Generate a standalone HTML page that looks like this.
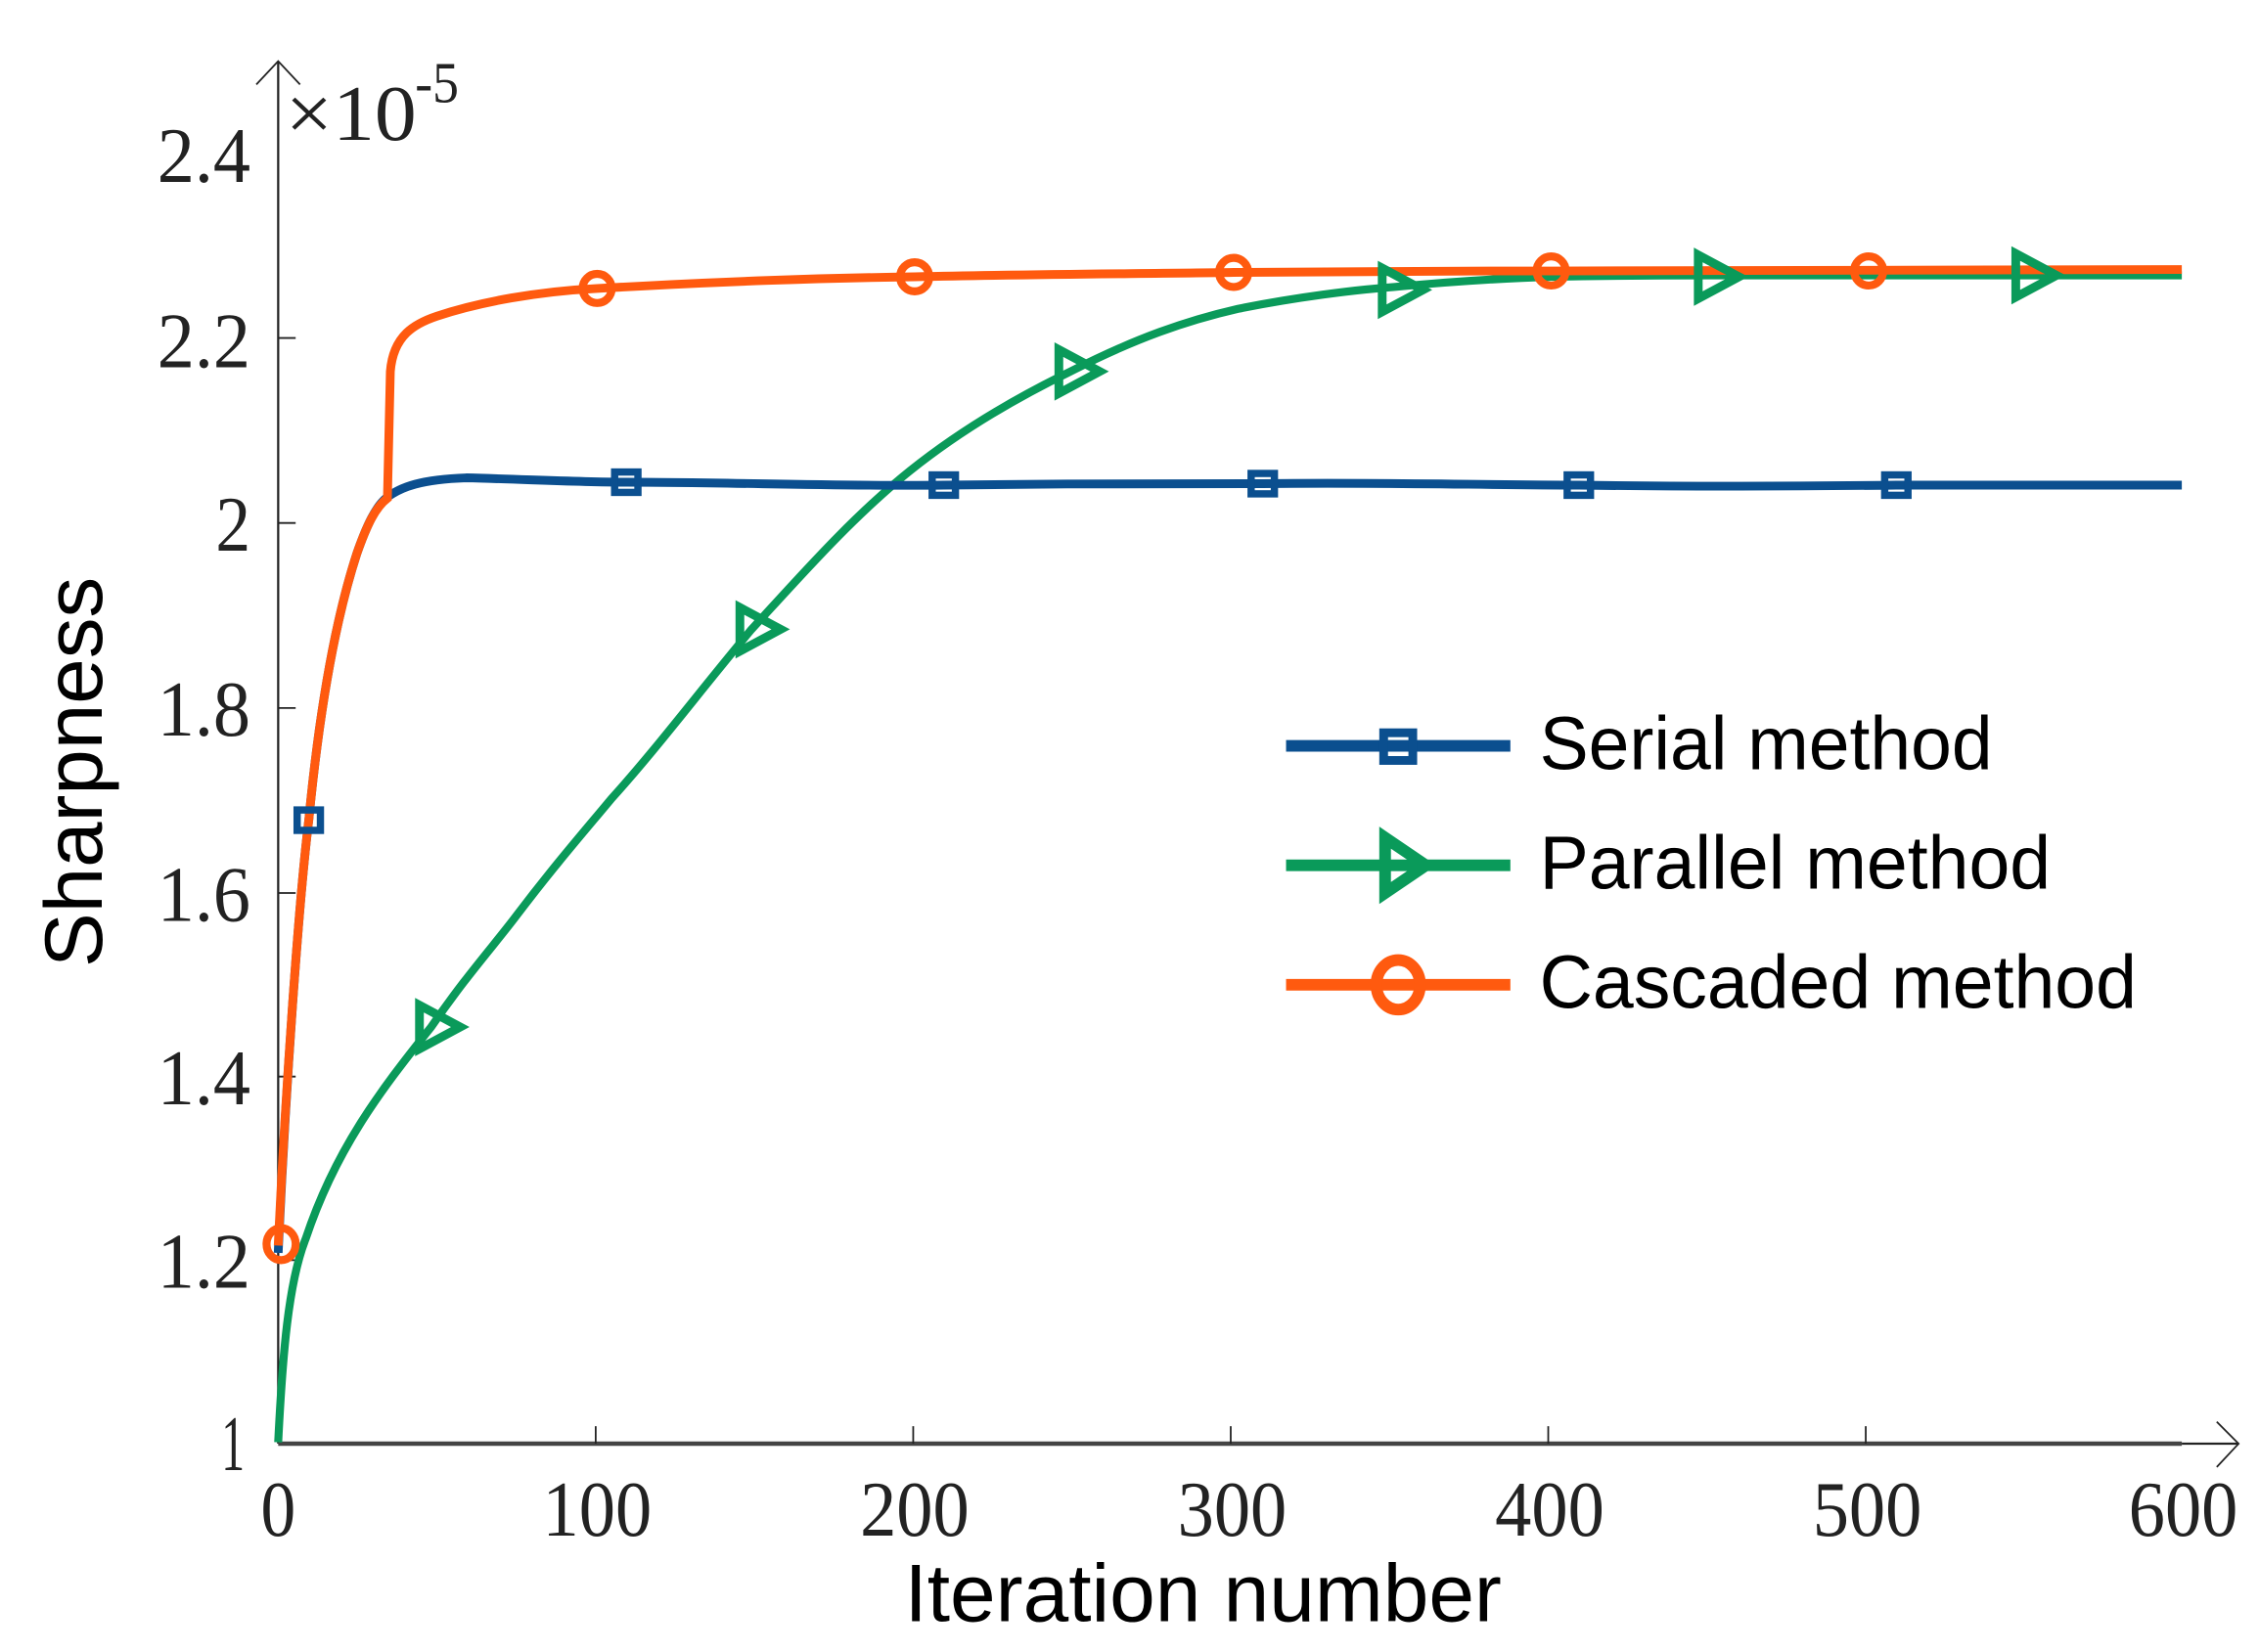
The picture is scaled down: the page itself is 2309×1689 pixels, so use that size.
<!DOCTYPE html>
<html><head><meta charset="utf-8"><style>html,body{margin:0;padding:0;background:#fff}svg{display:block}</style></head>
<body>
<svg width="2309" height="1689" viewBox="0 0 1551 1134" preserveAspectRatio="none" xmlns="http://www.w3.org/2000/svg">
<rect width="1551" height="1134" fill="#fff"/>
<g stroke="#222" fill="none">
<line x1="191" y1="42" x2="191" y2="991" stroke-width="1.5"/>
<polyline points="176,58 191,42 206,58" stroke-width="1.2"/>
<line x1="191" y1="991" x2="1498" y2="991" stroke-width="3" stroke="#444"/>
<line x1="1498" y1="991" x2="1537" y2="991" stroke-width="1.5"/>
<polyline points="1522,976 1537,991 1522,1007" stroke-width="1.2"/>
<g stroke-width="1.2">
<line x1="191" y1="232" x2="203" y2="232"/><line x1="191" y1="359" x2="203" y2="359"/>
<line x1="191" y1="486" x2="203" y2="486"/><line x1="191" y1="613" x2="203" y2="613"/>
<line x1="191" y1="739" x2="203" y2="739"/><line x1="191" y1="865" x2="203" y2="865"/>
<line x1="409" y1="991" x2="409" y2="979"/><line x1="627" y1="991" x2="627" y2="979"/>
<line x1="845" y1="991" x2="845" y2="979"/><line x1="1063" y1="991" x2="1063" y2="979"/>
<line x1="1281" y1="991" x2="1281" y2="979"/>
</g>
</g>
<g font-family="Liberation Serif, serif" font-size="54" fill="#222" text-anchor="end">
<text x="172" y="125" textLength="64" lengthAdjust="spacingAndGlyphs">2.4</text>
<text x="172" y="252" textLength="64" lengthAdjust="spacingAndGlyphs">2.2</text>
<text x="172" y="378" textLength="24" lengthAdjust="spacingAndGlyphs">2</text>
<text x="172" y="505" textLength="64" lengthAdjust="spacingAndGlyphs">1.8</text>
<text x="172" y="632" textLength="64" lengthAdjust="spacingAndGlyphs">1.6</text>
<text x="172" y="758" textLength="64" lengthAdjust="spacingAndGlyphs">1.4</text>
<text x="172" y="884" textLength="64" lengthAdjust="spacingAndGlyphs">1.2</text>
<text x="168" y="1009" textLength="16" lengthAdjust="spacingAndGlyphs">1</text>
</g>
<g font-family="Liberation Serif, serif" font-size="54" fill="#222" text-anchor="middle">
<text x="191" y="1054" textLength="24" lengthAdjust="spacingAndGlyphs">0</text>
<text x="410" y="1054" textLength="75" lengthAdjust="spacingAndGlyphs">100</text>
<text x="628" y="1054" textLength="75" lengthAdjust="spacingAndGlyphs">200</text>
<text x="846" y="1054" textLength="75" lengthAdjust="spacingAndGlyphs">300</text>
<text x="1064" y="1054" textLength="75" lengthAdjust="spacingAndGlyphs">400</text>
<text x="1282" y="1054" textLength="75" lengthAdjust="spacingAndGlyphs">500</text>
<text x="1499" y="1054" textLength="75" lengthAdjust="spacingAndGlyphs">600</text>
</g>
<text x="196" y="96" font-family="Liberation Serif, serif" font-size="54" fill="#222" textLength="90" lengthAdjust="spacingAndGlyphs">×10</text>
<text x="285" y="70" font-family="Liberation Serif, serif" font-size="40" fill="#222" textLength="30" lengthAdjust="spacingAndGlyphs">-5</text>
<text x="826" y="1113" font-family="Liberation Sans, sans-serif" font-size="56" text-anchor="middle" textLength="410" lengthAdjust="spacingAndGlyphs">Iteration number</text>
<text transform="translate(70,530) rotate(-90)" font-family="Liberation Sans, sans-serif" font-size="56" text-anchor="middle" textLength="268" lengthAdjust="spacingAndGlyphs">Sharpness</text>
<path d="M191,990 C194,930 198,880 210,850 C230,790 260,750 296,705 C320,670 340,648 355,628 C380,595 400,572 420,548 C450,515 480,475 516,432 C550,395 585,355 625,323 C660,295 700,272 735,255 C780,232 815,220 850,212 C890,204 930,199 957,197 C1000,193 1030,191 1065,190 C1120,189 1150,189 1174,189 L1498,189" fill="none" stroke="#0a9a5a" stroke-width="5.5"/>
<path d="M191,860 C196,750 205,620 212,563 C220,480 232,420 245,380 C252,360 258,348 265,342 C275,334 290,329 320,328 C360,329 400,331 430,331 C500,331 580,334 648,333 C720,332 800,332 867,332 C950,331 1020,333 1084,333 C1150,334 1220,334 1302,333 L1498,333" fill="none" stroke="#0b4f8f" stroke-width="6"/>
<path d="M191,855 C196,750 205,620 212,563 C220,480 232,420 245,380 C252,360 258,348 266,342 L268,255 C270,230 285,222 300,217 C330,207 370,200 410,198 C500,193 560,191 628,190 C720,188 780,188 847,187 C950,186 1000,186 1065,186 L1498,185" fill="none" stroke="#ff5a0f" stroke-width="6"/>
<g fill="none" stroke="#0b4f8f" stroke-width="5">
<rect x="204" y="556" width="16" height="14"/><rect x="422" y="324" width="16" height="14"/>
<rect x="640" y="326" width="16" height="14"/><rect x="859" y="325" width="16" height="14"/>
<rect x="1076" y="326" width="16" height="14"/><rect x="1294" y="326" width="16" height="14"/>
</g>
<g fill="none" stroke="#0a9a5a" stroke-width="6">
<polygon points="288,690 316,705 288,720"/><polygon points="508,417 536,432 508,447"/>
<polygon points="727,240 755,255 727,270"/><polygon points="949,184 977,199 949,214"/>
<polygon points="1166,175 1194,190 1166,205"/><polygon points="1384,174 1412,189 1384,204"/>
</g>
<g fill="none" stroke="#ff5a0f" stroke-width="5.5">
<ellipse cx="193" cy="854" rx="10" ry="11"/><ellipse cx="410" cy="198" rx="10" ry="10"/>
<ellipse cx="628" cy="190" rx="10" ry="10"/><ellipse cx="847" cy="187" rx="10" ry="10"/>
<ellipse cx="1065" cy="186" rx="10" ry="10"/><ellipse cx="1283" cy="186" rx="10" ry="10"/>
</g>
<line x1="883" y1="512" x2="1037" y2="512" stroke="#0b4f8f" stroke-width="8"/>
<rect x="950" y="503" width="20" height="19" fill="none" stroke="#0b4f8f" stroke-width="6"/>
<line x1="883" y1="594" x2="1037" y2="594" stroke="#0a9a5a" stroke-width="8"/>
<polygon points="951,575 979,594 951,613" fill="none" stroke="#0a9a5a" stroke-width="8"/>
<line x1="883" y1="676" x2="1037" y2="676" stroke="#ff5a0f" stroke-width="8"/>
<ellipse cx="960" cy="676" rx="15" ry="17" fill="none" stroke="#ff5a0f" stroke-width="8"/>
<g font-family="Liberation Sans, sans-serif" font-size="52" fill="#000">
<text x="1057" y="528" textLength="311" lengthAdjust="spacingAndGlyphs">Serial method</text>
<text x="1057" y="610" textLength="351" lengthAdjust="spacingAndGlyphs">Parallel method</text>
<text x="1057" y="692" textLength="410" lengthAdjust="spacingAndGlyphs">Cascaded method</text>
</g>
</svg>
</body></html>
